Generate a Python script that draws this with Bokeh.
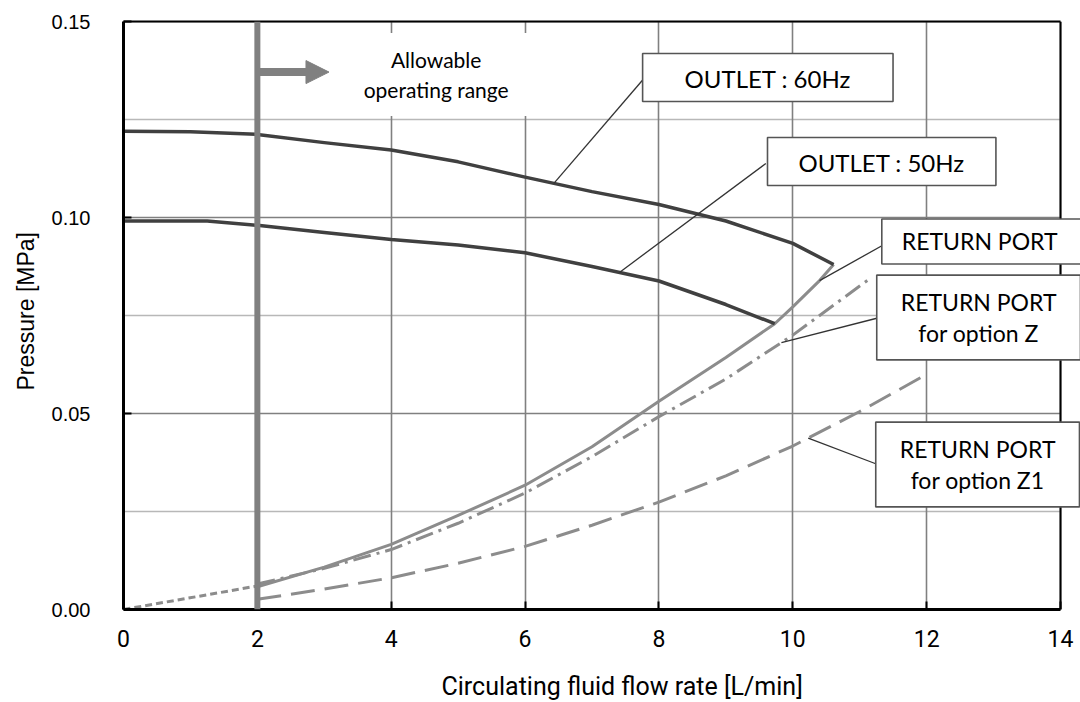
import numpy as np
from bokeh.plotting import figure
from bokeh.models import (Range1d, FixedTicker, Label, Arrow, NormalHead, Span,
                          PrintfTickFormatter, LinearAxis, Title)
from bokeh.embed import file_html
from bokeh.resources import INLINE

# ---------------- data ----------------
x_ticks = [0, 2, 4, 6, 8, 10, 12, 14]
y_ticks = [0.00, 0.05, 0.10, 0.15]
y_minor = [0.025, 0.075, 0.125]

outlet60_x = [0, 1, 2, 3, 4, 5, 6, 7, 8, 9, 10, 10.61]
outlet60_y = [0.1220, 0.1219, 0.1212, 0.1191, 0.1172, 0.1142, 0.1103, 0.1066,
              0.1033, 0.0991, 0.0934, 0.0880]

outlet50_x = [0, 1.25, 2, 3, 4, 5, 6, 7, 8, 9, 9.73]
outlet50_y = [0.0991, 0.0991, 0.0980, 0.0962, 0.0944, 0.0930, 0.0910, 0.0875,
              0.0838, 0.0778, 0.0729]

return_x = [2, 3, 4, 5, 6, 7, 8, 9, 9.73, 10, 10.4, 10.61]
return_y = [0.0058, 0.0108, 0.0166, 0.0240, 0.0317, 0.0415, 0.0531, 0.0643,
            0.0729, 0.0772, 0.0839, 0.0880]

optz_x = [2, 3, 4, 5, 6, 7, 8, 9, 10, 11.15]
optz_y = [0.0065, 0.0105, 0.0153, 0.0220, 0.0297, 0.0390, 0.0492, 0.0588,
          0.0700, 0.0844]

optz1_x = [2, 3, 4, 5, 6, 7, 8, 9, 10, 11, 12]
optz1_y = [0.0026, 0.0052, 0.0081, 0.0118, 0.0161, 0.0215, 0.0274, 0.0341,
           0.0417, 0.0505, 0.0600]

low_x = [0, 2]
low_y = [0.0, 0.0060]

min_flow = 2.0
x_max = 14
y_max = 0.15

# ---------------- figure ----------------
PX_PER_X = 67.0
FRAME_W = 958
p = figure(width=1080, height=702, output_backend="svg", toolbar_location=None,
           x_range=Range1d(0, FRAME_W / PX_PER_X), y_range=Range1d(0, y_max),
           min_border_left=122, min_border_right=0, min_border_top=21,
           min_border_bottom=93)
p.background_fill_color = "white"
p.border_fill_color = "white"
p.outline_line_color = None

p.xaxis.ticker = FixedTicker(ticks=x_ticks)
p.xaxis.bounds = (0, x_max)
p.yaxis.ticker = FixedTicker(ticks=y_ticks, minor_ticks=y_minor)
p.yaxis.formatter = PrintfTickFormatter(format="%.2f")

for ax in (p.xaxis[0], p.yaxis[0]):
    ax.axis_line_color = "black"
    ax.axis_line_width = 3
    ax.major_tick_in = 8
    ax.major_tick_out = 0
    ax.major_tick_line_color = "black"
    ax.major_tick_line_width = 2
    ax.minor_tick_line_color = None
    ax.major_label_text_color = "black"

p.yaxis.major_label_text_font = "Liberation Sans"
p.yaxis.major_label_text_font_size = "20px"
p.yaxis.major_label_standoff = 29
p.xaxis.major_label_text_font = "Roboto"
p.xaxis.major_label_text_font_size = "23px"
p.xaxis.major_label_standoff = 20

# top border as an axis line limited to the data extent
top = LinearAxis(bounds=(0, x_max), ticker=FixedTicker(ticks=[]),
                 axis_line_color="black", axis_line_width=2,
                 major_tick_line_color=None, minor_tick_line_color=None)
p.add_layout(top, "above")

# blank spacer strip between the x axis and its title (white on white, no labels)
spacer = LinearAxis(ticker=FixedTicker(ticks=[0]), axis_line_color=None,
                    major_tick_in=0, major_tick_out=20,
                    major_tick_line_color="white", major_tick_line_width=1,
                    minor_tick_line_color=None, major_label_standoff=0,
                    major_label_text_color=None)
p.add_layout(spacer, "below")

# grid
p.xgrid.ticker = FixedTicker(ticks=x_ticks)
p.xgrid.grid_line_color = "#808080"
p.xgrid.grid_line_width = 1.6
p.ygrid.visible = False
p.segment(x0=[0] * len(y_minor), x1=[x_max] * len(y_minor), y0=y_minor, y1=y_minor,
          line_color="#b8b8b8", line_width=1.6, level="underlay")
p.segment(x0=[0] * len(y_ticks), x1=[x_max] * len(y_ticks), y0=y_ticks, y1=y_ticks,
          line_color="#808080", line_width=1.6, level="underlay")

# ---------------- curves ----------------
p.line(low_x, low_y, line_color="#8c8c8c", line_width=3, line_dash="7 4")
p.line(optz1_x, optz1_y, line_color="#8c8c8c", line_width=3, line_dash="24 10")
p.line(optz_x, optz_y, line_color="#8c8c8c", line_width=3, line_dash="18 6 3 6")
p.line(return_x, return_y, line_color="#8c8c8c", line_width=3, line_join="round")
p.line(outlet50_x, outlet50_y, line_color="#404040", line_width=3.5, line_join="round")
p.line(outlet60_x, outlet60_y, line_color="#404040", line_width=3.5, line_join="round")

p.add_layout(Span(location=x_max, dimension="height", line_color="black",
                  line_width=2))
p.add_layout(Span(location=min_flow, dimension="height", line_color="#808080",
                  line_width=6))
p.add_layout(Arrow(end=NormalHead(size=23, fill_color="#808080", line_color="#808080"),
                   x_start=min_flow, y_start=0.1371, x_end=3.07, y_end=0.1371,
                   line_color="#808080", line_width=8))

# ---------------- annotations ----------------
def X(px):
    return (px - 122.0) / PX_PER_X


def Y(py):
    return (609.0 - py) / 3920.0


leaders = [
    ((643, 78), 6.43, outlet60_x, outlet60_y),
    ((765, 163), 7.41, outlet50_x, outlet50_y),
    ((887, 242), 10.40, return_x, return_y),
    ((879, 317), 9.83, optz_x, optz_y),
    ((877, 464), 10.23, optz1_x, optz1_y),
]
for (bx, by), ax_, sx, sy in leaders:
    p.line([X(bx), ax_], [Y(by), float(np.interp(ax_, sx, sy))],
           line_color="#333333", line_width=1.3)


def box(px, py, text, size, pads, lh=1.2):
    l, r, t, b = pads
    p.add_layout(Label(x=X(px), y=Y(py), text=text, text_align="center",
                       text_baseline="middle", text_font="Lato",
                       text_font_size=size, text_color="black",
                       text_line_height=lh,
                       background_fill_color="white",
                       border_line_color="#555555", border_line_width=1.6,
                       padding=dict(left=l, right=r, top=t, bottom=b)))


box(767, 77, "OUTLET : 60Hz", "24px", (42, 42, 10, 9))
box(881, 161, "OUTLET : 50Hz", "24px", (31, 31, 10, 9))
box(982, 241, "RETURN  PORT", "23px", (20, 20, 8, 9))
box(978, 317, "RETURN PORT\nfor option Z", "23px", (24, 24, 13, 13), 1.1)
box(977, 464, "RETURN PORT\nfor option Z1", "23px", (24, 24, 13, 13), 1.1)

p.add_layout(Label(x=X(435), y=Y(74), text="Allowable\noperating range",
                   text_align="center", text_baseline="middle", text_font="Lato",
                   text_font_size="21px", text_color="black", text_line_height=1.2,
                   background_fill_color="white",
                   padding=dict(left=26, right=26, top=14, bottom=14)))

# axis titles
p.add_layout(Title(text="Pressure [MPa]", align="left", offset=219, standoff=20,
                   text_font="Liberation Sans", text_font_size="23px",
                   text_font_style="normal", text_color="black"), "left")
p.add_layout(Title(text="Circulating fluid flow rate [L/min]", align="left",
                   offset=318, standoff=0, text_font="Roboto",
                   text_font_size="25px", text_font_style="normal",
                   text_color="black"), "below")

open("out.html", "w").write(file_html(p, INLINE))
